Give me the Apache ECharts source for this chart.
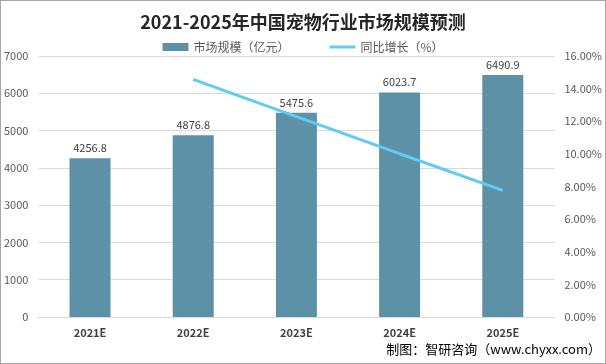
<!DOCTYPE html>
<html>
<head>
<meta charset="utf-8">
<script src="https://cdn.jsdelivr.net/npm/echarts@6/dist/echarts.min.js"></script>
<style>
html,body{margin:0;padding:0;background:#fff;}
#c{width:606px;height:364px;box-sizing:border-box;border:1px solid #a6a6a6;}
</style>
</head>
<body>
<div id="c"></div>
<script>
var titleText = '2021-2025年中国宠物行业市场规模预测';
var categories = ['2021E', '2022E', '2023E', '2024E', '2025E'];
var marketSize = [4256.8, 4876.8, 5475.6, 6023.7, 6490.9];
var growthRate = [null, 14.57, 12.28, 10.01, 7.76];
var leftTicks = {min: 0, max: 7000, interval: 1000};
var rightTicks = {min: 0, max: 16, interval: 2};
var sourceText = '制图：智研咨询（www.chyxx.com）';

var font = '"Noto Sans CJK SC", "Microsoft YaHei", sans-serif';
var chart = echarts.init(document.getElementById('c'), null, {renderer: 'canvas'});
chart.setOption({
  animation: false,
  textStyle: {fontFamily: font},
  title: {
    text: titleText, left: 'center', top: 7,
    textStyle: {fontSize: 18, fontWeight: 'bold', color: '#262626', fontFamily: font}
  },
  legend: {
    top: 35, left: 'center', itemGap: 40, itemWidth: 26, itemHeight: 8,
    textStyle: {fontSize: 12, color: '#595959'},
    data: [
      {name: '市场规模（亿元）', icon: 'rect'},
      {name: '同比增长（%）', icon: 'path://M0,0H26V3H0Z'}
    ]
  },
  grid: {left: 36.5, right: 48.5, top: 55, bottom: 46},
  xAxis: {
    type: 'category', data: categories,
    axisLine: {lineStyle: {color: '#d9d9d9'}}, axisTick: {show: false},
    axisLabel: {fontSize: 11, fontWeight: 'bold', color: '#404040', margin: 10}
  },
  yAxis: [{
    type: 'value', min: leftTicks.min, max: leftTicks.max, interval: leftTicks.interval,
    axisLine: {show: false}, axisTick: {show: false},
    axisLabel: {fontSize: 11, color: '#595959', margin: 10, formatter: function(v){return String(v);}},
    splitLine: {lineStyle: {color: '#d9d9d9'}}
  }, {
    type: 'value', min: rightTicks.min, max: rightTicks.max, interval: rightTicks.interval,
    axisLine: {show: false}, axisTick: {show: false},
    axisLabel: {fontSize: 11, color: '#595959', margin: 10, formatter: function(v){return v.toFixed(2) + '%';}},
    splitLine: {show: false}
  }],
  series: [{
    name: '市场规模（亿元）', type: 'bar', data: marketSize, barWidth: 41,
    itemStyle: {color: '#5D91A7'},
    label: {show: true, position: 'top', distance: 5, fontSize: 11, color: '#404040',
      formatter: function(p){return p.value.toFixed(1);}}
  }, {
    name: '同比增长（%）', type: 'line', yAxisIndex: 1, data: growthRate,
    symbol: 'none', lineStyle: {color: '#62CBF5', width: 3}, itemStyle: {color: '#62CBF5'}
  }],
  graphic: [{
    type: 'text', right: 4, top: 342,
    style: {text: sourceText, fontSize: 13, fill: '#000', fontFamily: font}
  }]
});
</script>
</body>
</html>
